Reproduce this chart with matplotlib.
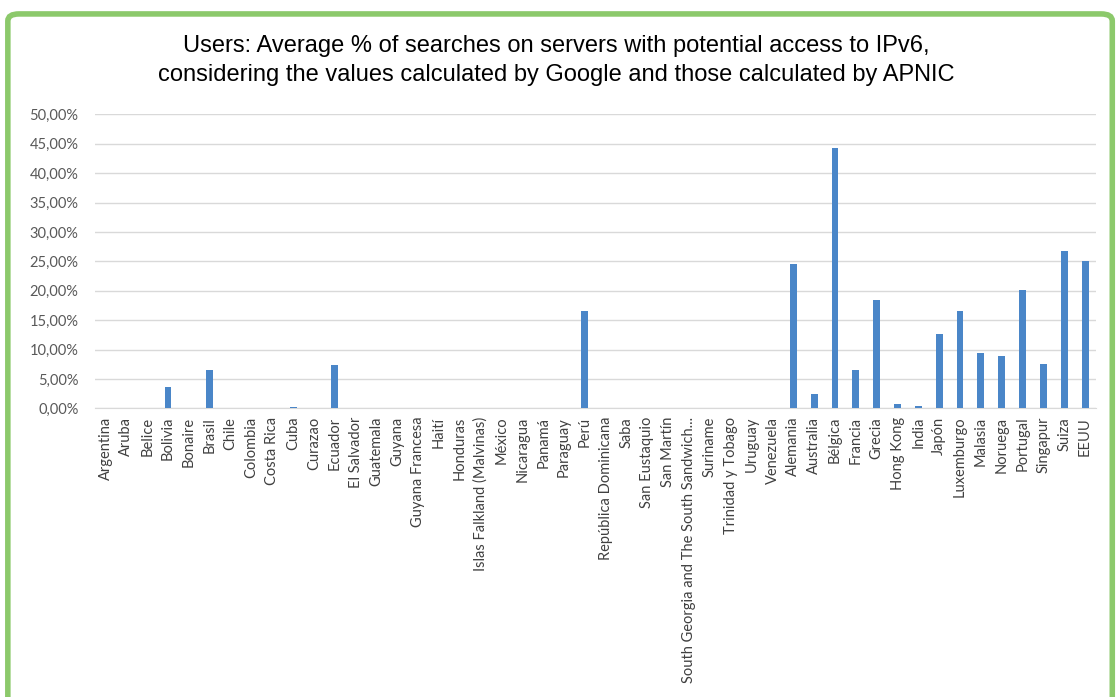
import numpy as np
import matplotlib.pyplot as plt
from matplotlib.patches import FancyBboxPatch
from matplotlib.ticker import FuncFormatter

countries = ['Argentina', 'Aruba', 'Belice', 'Bolivia', 'Bonaire', 'Brasil', 'Chile',
             'Colombia', 'Costa Rica', 'Cuba', 'Curazao', 'Ecuador', 'El Salvador',
             'Guatemala', 'Guyana', 'Guyana Francesa', 'Haití', 'Honduras',
             'Islas Falkland (Malvinas)', 'México', 'Nicaragua', 'Panamá', 'Paraguay',
             'Perú', 'República Dominicana', 'Saba', 'San Eustaquio', 'San Martín',
             'South Georgia and The South Sandwich...', 'Suriname', 'Trinidad y Tobago',
             'Uruguay', 'Venezuela', 'Alemania', 'Australia', 'Bélgica', 'Francia',
             'Grecia', 'Hong Kong', 'India', 'Japón', 'Luxemburgo', 'Malasia',
             'Noruega', 'Portugal', 'Singapur', 'Suiza', 'EEUU']
values = [0, 0, 0, 3.6, 0, 6.6, 0,
          0, 0, 0.3, 0, 7.4, 0,
          0, 0, 0, 0, 0,
          0, 0, 0, 0, 0,
          16.5, 0, 0, 0, 0,
          0, 0, 0,
          0, 0, 24.5, 2.4, 44.3, 6.6,
          18.5, 0.8, 0.4, 12.7, 16.6, 9.4,
          8.9, 20.2, 7.5, 26.7, 25.1]
yticks = np.arange(0, 55, 5)

fig = plt.figure(figsize=(11.19, 6.97), dpi=100)
ax = fig.add_axes([0.085, 0.414, 0.894, 0.422])

x = np.arange(len(countries))
ax.bar(x, values, width=0.33, color='#4A86C8', zorder=3)
ax.set_xlim(-0.5, len(countries) - 0.5)
ax.set_ylim(0, 50)
ax.set_yticks(yticks)
ax.yaxis.set_major_formatter(FuncFormatter(lambda v, p: ('%.2f%%' % v).replace('.', ',')))
ax.set_xticks(x)
ax.set_xticklabels(countries, rotation=90, fontsize=10.5, color='#404040', family=['Lato', 'DejaVu Sans'])
for lbl in ax.get_yticklabels():
    lbl.set_fontsize(10.5)
    lbl.set_color('#595959')
    lbl.set_family(['Lato', 'DejaVu Sans'])
ax.grid(axis='y', color='#D9D9D9', linewidth=1, zorder=0)
for s in ['top', 'right', 'left']:
    ax.spines[s].set_visible(False)
ax.spines['bottom'].set_color('#D9D9D9')
ax.tick_params(axis='x', length=0, pad=6)
ax.tick_params(axis='y', length=0, pad=12)

fig.text(0.497, 0.913, 'Users: Average % of searches on servers with potential access to IPv6,\n'
         'considering the values calculated by Google and those calculated by APNIC',
         ha='center', va='center', fontsize=17, linespacing=1.45,
         family=['Liberation Sans Narrow', 'Liberation Sans', 'DejaVu Sans'])

# green frame round the chart
frame = FancyBboxPatch((0.007, -0.05), 0.987, 1.03,
                       boxstyle='round,pad=0,rounding_size=0.01',
                       transform=fig.transFigure, fill=False,
                       edgecolor='#8CC96B', linewidth=4, zorder=10)
fig.patches.append(frame)

fig.savefig('out.png', dpi=100)
